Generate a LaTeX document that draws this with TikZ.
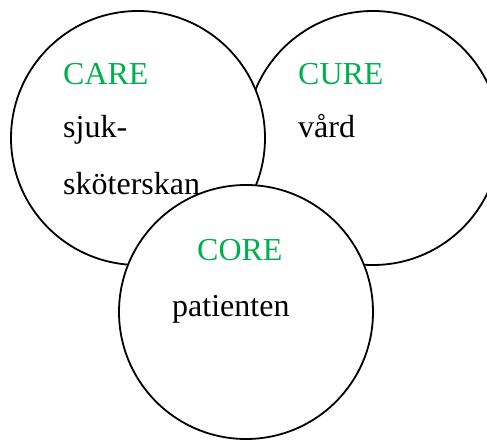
\documentclass[tikz,border=0pt]{standalone}
\usepackage{fontspec}
\setmainfont{Liberation Serif}
\definecolor{kgreen}{HTML}{00B050}
\tikzset{
  ring/.style={circle, draw=black, fill=white, line width=1.8pt, inner sep=0pt},
  label/.style={anchor=base west, inner sep=0pt, font=\fontsize{32}{38}\selectfont},
  head/.style={label, text=kgreen}
}
\begin{document}
\begin{tikzpicture}[x=1pt, y=1pt]
    % bildens ram
    \useasboundingbox (0,0) rectangle (487,441);

    % cirklarna (hoger forst, sedan vanster, sist den nedre)
    \node[ring, minimum size=254pt] (cure) at (373,303) {};
    \node[ring, minimum size=254pt] (care) at (138,303) {};
    \node[ring, minimum size=254pt] (core) at (246,129) {};

    % texter
    \node[head] (careT) at (63,356) {CARE};
    \node[label] (careA) at (63,303) {sjuk-};
    \node[label] (careB) at (63,246) {sköterskan};

    \node[head] (cureT) at (298,356) {CURE};
    \node[label] (cureA) at (298,303) {vård};

    \node[head] (coreT) at (197,180) {CORE};
    \node[label] (coreA) at (172,124) {patienten};
\end{tikzpicture}
\end{document}
